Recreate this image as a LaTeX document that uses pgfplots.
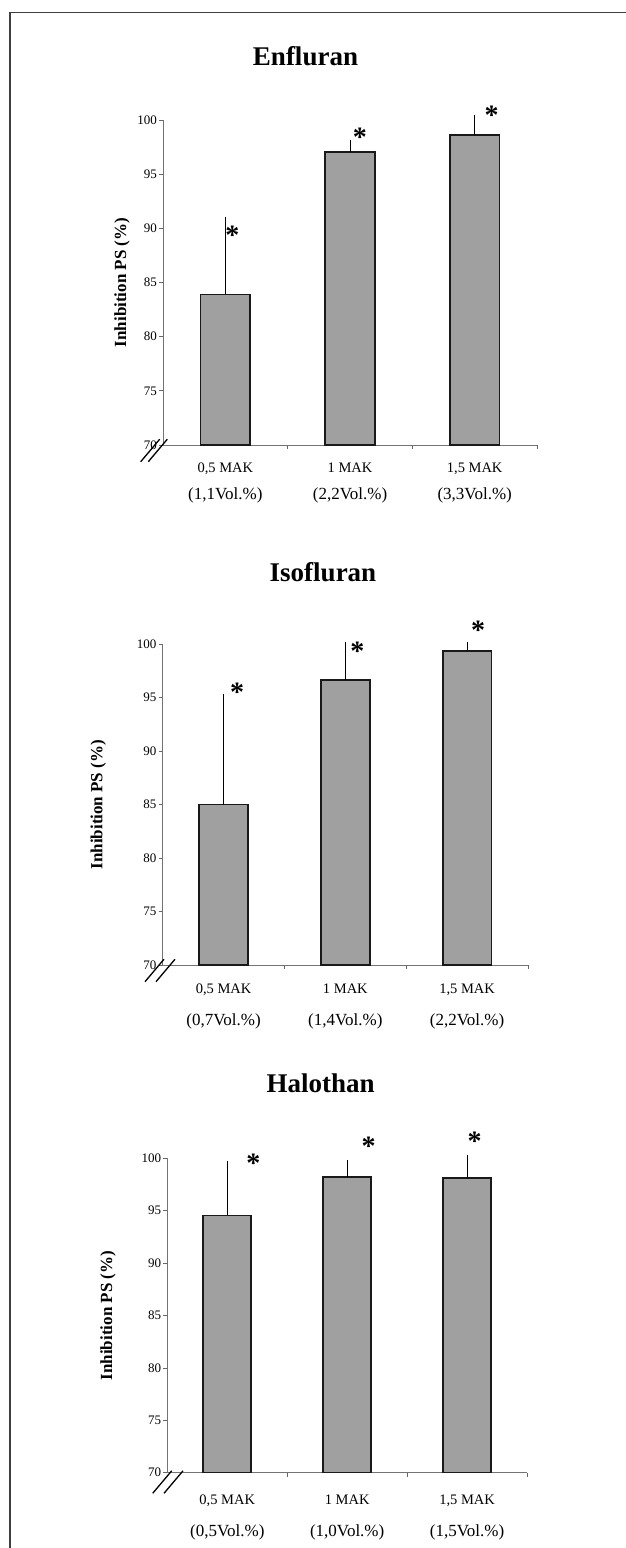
\documentclass[border=0pt]{standalone}
\usepackage{fontspec}
\setmainfont{Liberation Serif}
\usepackage{pgfplots}
\pgfplotsset{compat=1.18}
\definecolor{barfill}{RGB}{160,160,160}
\tikzset{astk/.style={font=\bfseries\fontsize{28}{28}\selectfont, anchor=base, inner sep=0pt, yshift=-13.3pt}}
\pgfplotsset{
  panel/.style={
    scale only axis, anchor=south west, clip=true,
    xmin=-0.5, xmax=2.5, ymin=70, ymax=103,
    axis x line*=bottom, axis y line*=left,
    axis line style={-, draw=black!55, line width=0.8pt},
    ytick={70,75,80,85,90,95,100},
    yticklabel style={font=\fontsize{13}{13}\selectfont, /pgf/number format/assume math mode=true, inner sep=2pt},
    tick align=outside, major tick length=4pt,
    tick style={draw=black!60, line width=0.7pt},
    xtick={0.5,1.5,2.5}, xticklabels={},
    extra x ticks={0,1,2},
    extra x tick style={major tick length=0pt, tick style={draw=none}},
    xticklabel style={align=center, anchor=north, inner sep=0pt},
    ylabel={Inhibition PS (\%)},
    ylabel style={font=\bfseries\fontsize{17}{17}\selectfont, anchor=center, rotate=0},
  },
  barplot/.style={ybar, bar width=0.4, fill=barfill, draw=black!90, line width=1.6pt,
    error bars/.cd, y dir=plus, y explicit,
    error bar style={line width=0.8pt, draw=black},
    error mark options={draw=black, line width=0.8pt, mark size=2pt}},
}
\newcommand{\brk}[4]{%
  \draw[line width=1.3pt, black] ([shift={(#1,#3)}]#4) -- ++(19pt,22.5pt);
  \draw[line width=1.3pt, black] ([shift={(#2,#3)}]#4) -- ++(19pt,22.5pt);}
\begin{document}
\begin{tikzpicture}
\path[use as bounding box] (0pt,0pt) rectangle (626pt,-1548pt);
\draw[line width=1.5pt, black!75] (10pt,-1548pt) -- (10pt,-12.5pt) -- (626pt,-12.5pt);

% ---------------- Enfluran ----------------
\node[font=\bfseries\fontsize{27}{27}\selectfont, anchor=base] at (305.5pt,-65.7pt) {Enfluran};
\begin{axis}[panel, name=ax1, at={(163pt,-445pt)}, width=374pt, height=357.5pt,
  y axis line style={shorten >=32.5pt},
  ylabel style={at={(axis description cs:-0.1096,0.4545)}},
  xticklabel style={font=\fontsize{14.5}{27}\selectfont, yshift=-18pt},
  extra x tick labels={{0,5 MAK\\{\fontsize{17}{27}\selectfont (1,1Vol.\%)}},{1 MAK\\{\fontsize{17}{27}\selectfont (2,2Vol.\%)}},{1,5 MAK\\{\fontsize{17}{27}\selectfont (3,3Vol.\%)}}}]
\addplot[barplot] coordinates {(0,83.9) +- (0,7.0) (1,97.05) +- (0,0.95) (2,98.6) +- (0,1.65)};
\node[astk] at (axis cs:0.056,89.7) {*};
\node[astk] at (axis cs:1.08,98.8) {*};
\node[astk] at (axis cs:2.136,100.8) {*};
\end{axis}
\brk{-22.3pt}{-14.7pt}{-16.7pt}{ax1.south west}

% ---------------- Isofluran ----------------
\node[font=\bfseries\fontsize{27}{27}\selectfont, anchor=base] at (323pt,-581.7pt) {Isofluran};
\begin{axis}[panel, name=ax2, at={(162.7pt,-965pt)}, width=365.3pt, height=352.8pt,
  y axis line style={shorten >=32.1pt},
  ylabel style={at={(axis description cs:-0.1763,0.4545)}},
  xticklabel style={font=\fontsize{14.5}{32.4}\selectfont, yshift=-18.3pt},
  extra x tick labels={{0,5 MAK\\{\fontsize{17}{32.4}\selectfont (0,7Vol.\%)}},{1 MAK\\{\fontsize{17}{32.4}\selectfont (1,4Vol.\%)}},{1,5 MAK\\{\fontsize{17}{32.4}\selectfont (2,2Vol.\%)}}}]
\addplot[barplot] coordinates {(0,85.0) +- (0,10.2) (1,96.66) +- (0,3.34) (2,99.37) +- (0,0.7)};
\node[astk] at (axis cs:0.112,95.9) {*};
\node[astk] at (axis cs:1.098,99.7) {*};
\node[astk] at (axis cs:2.09,101.65) {*};
\end{axis}
\brk{-17.7pt}{-6.7pt}{-16.7pt}{ax2.south west}

% ---------------- Halothan ----------------
\node[font=\bfseries\fontsize{27}{27}\selectfont, anchor=base] at (320.7pt,-1092.3pt) {Halothan};
\begin{axis}[panel, name=ax3, at={(167.3pt,-1472.7pt)}, width=359.7pt, height=345.84pt,
  y axis line style={shorten >=31.4pt},
  ylabel style={at={(axis description cs:-0.1649,0.4545)}},
  xticklabel style={font=\fontsize{14.5}{32.4}\selectfont, yshift=-21.6pt},
  extra x tick labels={{0,5 MAK\\{\fontsize{17}{32.4}\selectfont (0,5Vol.\%)}},{1 MAK\\{\fontsize{17}{32.4}\selectfont (1,0Vol.\%)}},{1,5 MAK\\{\fontsize{17}{32.4}\selectfont (1,5Vol.\%)}}}]
\addplot[barplot] coordinates {(0,94.56) +- (0,5.04) (1,98.2) +- (0,1.45) (2,98.15) +- (0,2.0)};
\node[astk] at (axis cs:0.217,99.9) {*};
\node[astk] at (axis cs:1.18,101.5) {*};
\node[astk] at (axis cs:2.064,102.0) {*};
\end{axis}
\brk{-14.6pt}{-3.3pt}{-20.6pt}{ax3.south west}
\end{tikzpicture}
\end{document}
